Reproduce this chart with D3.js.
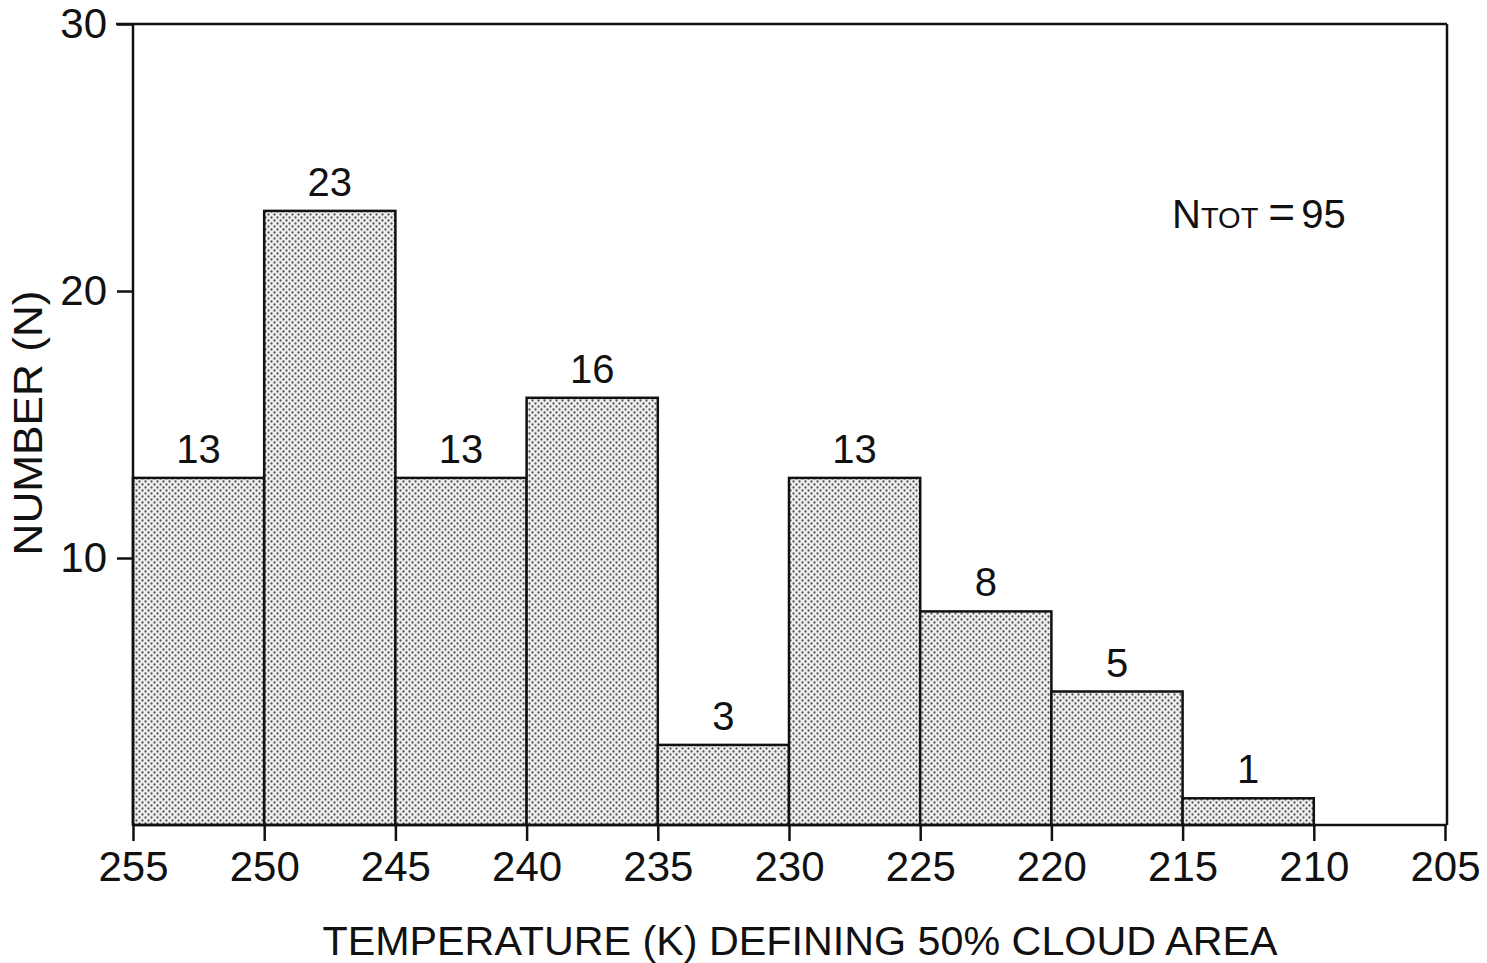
<!DOCTYPE html>
<html><head><meta charset="utf-8">
<script src="https://cdn.jsdelivr.net/npm/d3@7"></script>
<style>body{margin:0;background:#fff}svg{display:block}text{font-family:"Liberation Sans",Arial,sans-serif;fill:#111}</style>
</head><body>
<script>
const binStarts = [255,250,245,240,235,230,225,220,215];
const binEnds   = [250,245,240,235,230,225,220,215,210];
const counts    = [13,23,13,16,3,13,8,5,1];
const xTicks    = [255,250,245,240,235,230,225,220,215,210,205];
const yTicks    = [10,20,30];
const xTitle = "TEMPERATURE (K) DEFINING 50% CLOUD AREA";
const yTitle = "NUMBER (N)";
const total = 95;

const W=1487,H=963;
const svg=d3.select("body").append("svg").attr("width",W).attr("height",H);
const x=d3.scaleLinear().domain([255,205]).range([133,1445]);
const y=d3.scaleLinear().domain([0,30]).range([825,24]);
const right=1447;

const defs=svg.append("defs");
const pat=defs.append("pattern").attr("id","dots").attr("patternUnits","userSpaceOnUse").attr("width",6).attr("height",6);
pat.append("rect").attr("width",6).attr("height",6).attr("fill","#efefef");
pat.append("circle").attr("cx",1.5).attr("cy",1.5).attr("r",1.15).attr("fill","#555");
pat.append("circle").attr("cx",4.5).attr("cy",4.5).attr("r",1.15).attr("fill","#555");

// bars
svg.selectAll("rect.bar").data(counts).join("rect").attr("class","bar")
  .attr("x",(d,i)=>x(binStarts[i])).attr("width",(d,i)=>x(binEnds[i])-x(binStarts[i]))
  .attr("y",d=>y(d)).attr("height",d=>y(0)-y(d))
  .attr("fill","url(#dots)").attr("stroke","#111").attr("stroke-width",2.5);

// bar labels
svg.selectAll("text.lab").data(counts).join("text").attr("class","lab")
  .attr("x",(d,i)=>(x(binStarts[i])+x(binEnds[i]))/2).attr("y",d=>y(d)-15)
  .attr("text-anchor","middle").attr("font-size",40).text(d=>d);

// frame
const g=svg.append("g").attr("stroke","#111").attr("stroke-width",2.5).attr("fill","none");
g.append("line").attr("x1",116).attr("x2",right).attr("y1",y(30)).attr("y2",y(30));
g.append("line").attr("x1",right).attr("x2",right).attr("y1",y(30)).attr("y2",y(0));
g.append("line").attr("x1",x(255)).attr("x2",x(255)).attr("y1",y(30)).attr("y2",y(0));
g.append("line").attr("x1",x(255)).attr("x2",right).attr("y1",y(0)).attr("y2",y(0));

// x axis
const xa=svg.append("g").attr("transform",`translate(0,${y(0)})`)
  .call(d3.axisBottom(x).tickValues(xTicks).tickSize(16).tickPadding(10).tickFormat(d3.format("d")));
xa.select(".domain").remove();
xa.selectAll("line").attr("stroke","#111").attr("stroke-width",2.5);
xa.selectAll("text").attr("font-size",42).attr("fill","#111").attr("font-family","Liberation Sans, Arial, sans-serif");

// y axis
const ya=svg.append("g").attr("transform",`translate(${x(255)},0)`)
  .call(d3.axisLeft(y).tickValues(yTicks).tickSize(16).tickPadding(10).tickFormat(d3.format("d")));
ya.select(".domain").remove();
ya.selectAll("line").attr("stroke","#111").attr("stroke-width",2.5);
ya.selectAll("text").attr("font-size",42).attr("fill","#111").attr("font-family","Liberation Sans, Arial, sans-serif");

// titles
svg.append("text").attr("x",800).attr("y",955).attr("text-anchor","middle")
  .attr("font-size",40).attr("textLength",955).attr("lengthAdjust","spacingAndGlyphs").text(xTitle);
svg.append("text").attr("transform","translate(42,423) rotate(-90)").attr("text-anchor","middle")
  .attr("font-size",40).attr("textLength",265).attr("lengthAdjust","spacingAndGlyphs").text(yTitle);

// NTOT
const nt=svg.append("text").attr("x",1172).attr("y",228).attr("font-size",40);
nt.append("tspan").text("N");
nt.append("tspan").attr("font-size",29).text("TOT");
nt.append("tspan").attr("dx",10).attr("font-size",46).text("=");
nt.append("tspan").attr("dx",6).text(total);
</script>
</body></html>
